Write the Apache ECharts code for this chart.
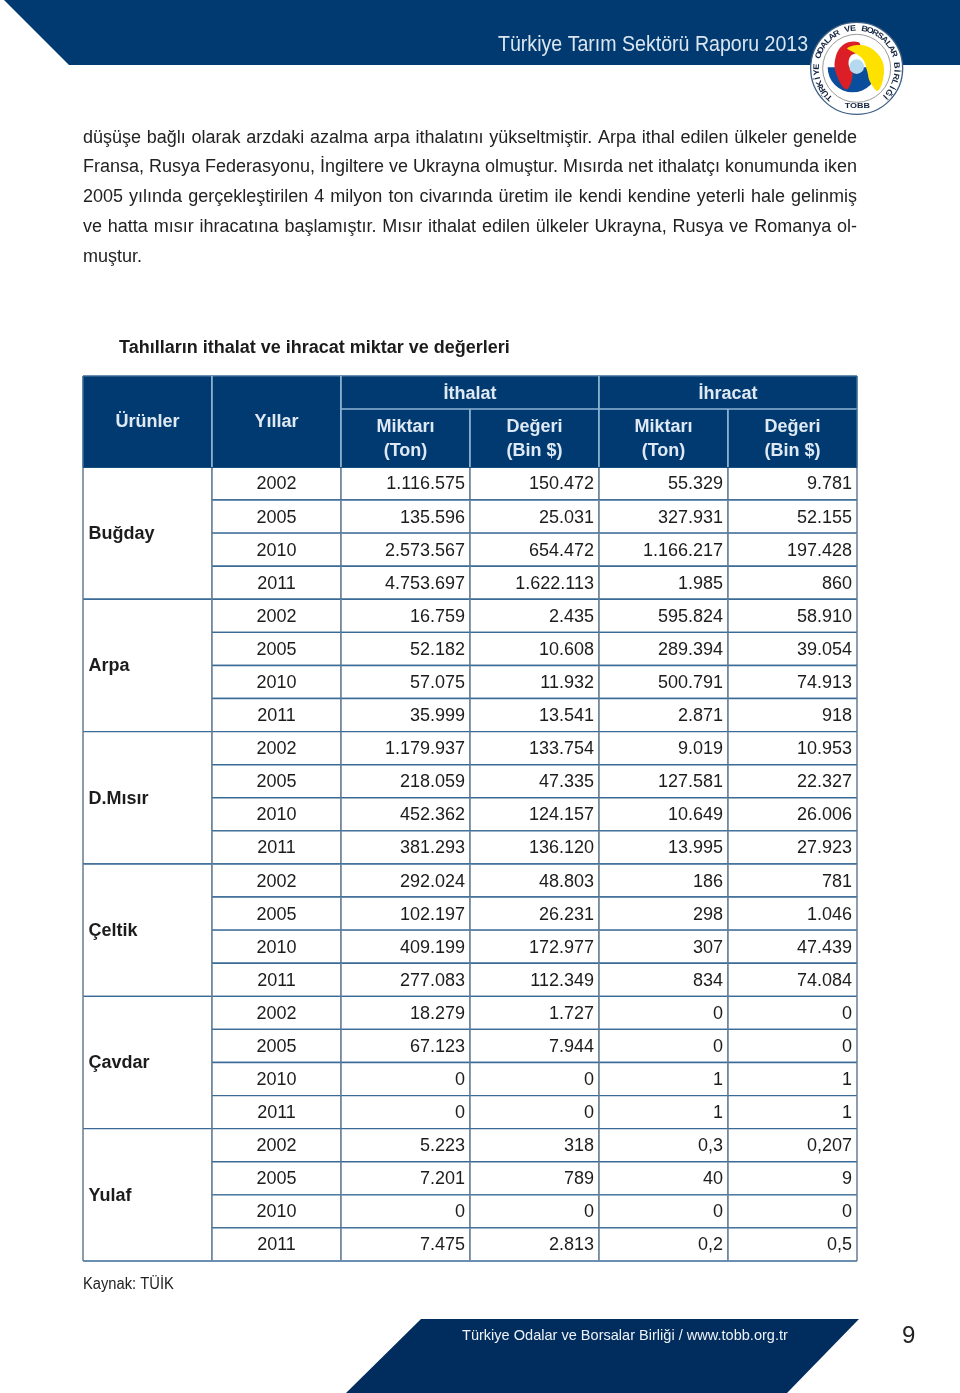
<!DOCTYPE html>
<html>
<head>
<meta charset="utf-8">
<title>Tahılların ithalat ve ihracat miktar ve değerleri</title>
<script src="https://cdn.jsdelivr.net/npm/echarts@6/dist/echarts.min.js"></script>
<style>
  html, body { margin: 0; padding: 0; background: #fff; }
  #main { width: 960px; height: 1393px; }
</style>
</head>
<body>
<div id="main"></div>
<script>
// tablo verileri
const products = ['Buğday', 'Arpa', 'D.Mısır', 'Çeltik', 'Çavdar', 'Yulaf'];
const years = ['2002', '2005', '2010', '2011'];
const importQty = [
  '1.116.575', '135.596', '2.573.567', '4.753.697',
  '16.759', '52.182', '57.075', '35.999',
  '1.179.937', '218.059', '452.362', '381.293',
  '292.024', '102.197', '409.199', '277.083',
  '18.279', '67.123', '0', '0',
  '5.223', '7.201', '0', '7.475'
];
const importVal = [
  '150.472', '25.031', '654.472', '1.622.113',
  '2.435', '10.608', '11.932', '13.541',
  '133.754', '47.335', '124.157', '136.120',
  '48.803', '26.231', '172.977', '112.349',
  '1.727', '7.944', '0', '0',
  '318', '789', '0', '2.813'
];
const exportQty = [
  '55.329', '327.931', '1.166.217', '1.985',
  '595.824', '289.394', '500.791', '2.871',
  '9.019', '127.581', '10.649', '13.995',
  '186', '298', '307', '834',
  '0', '0', '1', '1',
  '0,3', '40', '0', '0,2'
];
const exportVal = [
  '9.781', '52.155', '197.428', '860',
  '58.910', '39.054', '74.913', '918',
  '10.953', '22.327', '26.006', '27.923',
  '781', '1.046', '47.439', '74.084',
  '0', '0', '1', '1',
  '0,207', '9', '0', '0,5'
];

const paragraph = [
  'düşüşe bağlı olarak arzdaki azalma arpa ithalatını yükseltmiştir. Arpa ithal edilen ülkeler genelde',
  'Fransa, Rusya Federasyonu, İngiltere ve Ukrayna olmuştur. Mısırda net ithalatçı konumunda iken',
  '2005 yılında gerçekleştirilen 4 milyon ton civarında üretim ile kendi kendine yeterli hale gelinmiş',
  've hatta mısır ihracatına başlamıştır. Mısır ithalat edilen ülkeler Ukrayna, Rusya ve Romanya ol-',
  'muştur.'
];

const FONT = '"Liberation Sans", Arial, sans-serif';
const NAVY = '#003a70';
const HEAD_LINE = '#8fb4d3';
const ROW_LINE = '#3a6a96';
const COL_LINE = '#6f8498';

// hücreler: sütun, satır, sütun genişliği, satır yüksekliği
const HEAD = 2.75;
const cells = [];
function head(col, row, cs, rs, text) {
  cells.push({ col, row, cs, rs, text, kind: 'head' });
}
products.forEach((p, i) => {
  cells.push({ col: 0, row: i * years.length, cs: 1, rs: years.length, text: p, kind: 'product' });
});
importQty.forEach((v, i) => {
  cells.push({ col: 1, row: i, cs: 1, rs: 1, text: years[i % years.length], kind: 'year' });
  [v, importVal[i], exportQty[i], exportVal[i]].forEach((t, j) => {
    cells.push({ col: 2 + j, row: i, cs: 1, rs: 1, text: t, kind: 'num' });
  });
});
head(0, -HEAD, 1, HEAD, 'Ürünler');
head(1, -HEAD, 1, HEAD, 'Yıllar');
head(2, -HEAD, 2, 1, 'İthalat');
head(4, -HEAD, 2, 1, 'İhracat');
head(2, 1 - HEAD, 1, HEAD - 1, 'Miktarı\n(Ton)');
head(3, 1 - HEAD, 1, HEAD - 1, 'Değeri\n(Bin $)');
head(4, 1 - HEAD, 1, HEAD - 1, 'Miktarı\n(Ton)');
head(5, 1 - HEAD, 1, HEAD - 1, 'Değeri\n(Bin $)');

function renderCell(params, api) {
  const c = cells[params.dataIndex];
  const p0 = api.coord([api.value(0), api.value(1)]);
  const p1 = api.coord([api.value(0) + api.value(2), api.value(1) + api.value(3)]);
  const isHead = c.kind === 'head';
  const edge = isHead ? ROW_LINE : null;
  const hColor = isHead ? HEAD_LINE : ROW_LINE;
  const vColor = isHead ? HEAD_LINE : COL_LINE;
  const line = (x1, y1, x2, y2, color, w) => ({
    type: 'line', shape: { x1, y1, x2, y2 }, style: { stroke: color, lineWidth: w }
  });
  let x = (p0[0] + p1[0]) / 2;
  let align = 'center';
  if (c.kind === 'num') { x = p1[0] - 5; align = 'right'; }
  if (c.kind === 'product') { x = p0[0] + 5.5; align = 'left'; }
  const bold = isHead || c.kind === 'product';
  return {
    type: 'group',
    children: [
      { type: 'rect', shape: { x: p0[0], y: p0[1], width: p1[0] - p0[0], height: p1[1] - p0[1] },
        style: { fill: isHead ? NAVY : '#fff' } },
      line(p0[0], p0[1], p1[0], p0[1], (isHead && c.row === -HEAD) ? edge : hColor, 1.4),
      line(p0[0], p1[1], p1[0], p1[1], (isHead && c.row + c.rs === 0) ? NAVY : hColor, 1.4),
      line(p0[0], p0[1], p0[0], p1[1], (isHead && c.col === 0) ? edge : vColor, 1.6),
      line(p1[0], p0[1], p1[0], p1[1], (isHead && c.col + c.cs === 6) ? edge : vColor, 1.6),
      { type: 'text', z2: 5,
        style: {
          x: x, y: (p0[1] + p1[1]) / 2 + 1, text: c.text,
          textAlign: align, textVerticalAlign: 'middle', lineHeight: 24,
          font: (bold ? 'bold ' : '') + '18px ' + FONT,
          fill: isHead ? '#dfe9f3' : '#1c1c1c'
        } }
    ]
  };
}

// paragraf satırlarını iki yana yasla
const measure = document.createElement('canvas').getContext('2d');
function justified(text, y, left, right, font, fill, stretch) {
  measure.font = font;
  const words = text.split(' ');
  const total = words.reduce((s, w) => s + measure.measureText(w).width, 0);
  const gap = stretch ? (right - left - total) / (words.length - 1) : measure.measureText(' ').width;
  const out = [];
  let x = left;
  words.forEach(w => {
    out.push({ type: 'text', x: x, y: y, style: { text: w, font, fill, textVerticalAlign: 'middle' } });
    x += measure.measureText(w).width + gap;
  });
  return out;
}
const bodyFont = '18px ' + FONT;
const lineY = [138, 167, 197, 227, 257];
const paragraphEls = [];
paragraph.forEach((t, i) => {
  paragraphEls.push(...justified(t, lineY[i], 83, 857, bodyFont, '#222', i < paragraph.length - 1));
});

// TOBB logosu, koordinatlar 3 kat büyütülmüş
const ringText = 'TÜRKİYE ODALAR VE BORSALAR BİRLİĞİ';
const LOGO_C = [230, 175];
const logoText = ringText.split('').map((ch, i) => {
  const start = -137, sweep = 272;
  const deg = start + sweep * i / (ringText.length - 1);
  const a = deg * Math.PI / 180;
  return {
    type: 'text',
    x: LOGO_C[0] + 120 * Math.sin(a),
    y: LOGO_C[1] - 120 * Math.cos(a),
    rotation: -a,
    scaleX: 1.12,
    style: { text: ch, font: 'bold 24px ' + FONT, fill: '#14243f', textAlign: 'center', textVerticalAlign: 'middle' }
  };
});
const logo = {
  type: 'group', x: 780, y: 10, scaleX: 1 / 3, scaleY: 1 / 3,
  children: [
    { type: 'circle', shape: { cx: LOGO_C[0], cy: LOGO_C[1], r: 138 }, style: { fill: '#fff', stroke: '#3f5f85', lineWidth: 4 } },
    { type: 'circle', shape: { cx: LOGO_C[0], cy: LOGO_C[1], r: 102 }, style: { fill: '#fff', stroke: '#9a9a9a', lineWidth: 3 } },
    { type: 'sector', shape: { cx: 218, cy: 172, r: 75, r0: 0, startAngle: 0, endAngle: Math.PI }, style: { fill: '#0a4d9c' } },
    { type: 'polygon', shape: { smooth: 0.4, points: [[236, 97], [190, 104], [165, 150], [172, 200], [200, 238], [218, 192], [206, 165], [212, 138], [238, 124]] }, style: { fill: '#dc1f26' } },
    { type: 'polygon', shape: { smooth: 0.4, points: [[202, 114], [250, 106], [296, 135], [312, 182], [294, 242], [270, 215], [262, 185], [250, 150], [226, 130]] }, style: { fill: '#ffe100' } },
    { type: 'circle', shape: { cx: 230, cy: 170, r: 22 }, style: { fill: '#b5d9ee' } },
    { type: 'text', x: 232, y: 287, scaleX: 1.12,
      style: { text: 'TOBB', font: 'bold 24px ' + FONT, fill: '#14243f', textAlign: 'center', textVerticalAlign: 'middle' } }
  ].concat(logoText)
};

const myChart = echarts.init(document.getElementById('main'), null, { renderer: 'canvas' });
myChart.setOption({
  animation: false,
  backgroundColor: '#fff',
  grid: { left: 83, top: 376, width: 774, height: 885, containLabel: false },
  xAxis: { type: 'value', min: 0, max: 6, show: false },
  yAxis: { type: 'value', min: -HEAD, max: 24, inverse: true, show: false },
  series: [{
    type: 'custom',
    coordinateSystem: 'cartesian2d',
    clip: false,
    silent: true,
    renderItem: renderCell,
    data: cells.map(c => [c.col, c.row, c.cs, c.rs])
  }],
  graphic: [
    // üst ve alt bant
    { type: 'polygon', shape: { points: [[4, 0], [960, 0], [960, 65], [69, 65]] }, style: { fill: NAVY } },
    { type: 'polygon', shape: { points: [[421, 1319], [859, 1319], [787, 1393], [346, 1393]] }, style: { fill: '#002d5e' } },
    { type: 'text', x: 498, y: 45, scaleX: 0.89, style: { text: 'Türkiye Tarım Sektörü Raporu 2013', font: '22px ' + FONT, fill: '#dbe6f0', textVerticalAlign: 'middle' } },
    logo,
    ...paragraphEls,
    { type: 'text', x: 119, y: 348, style: { text: 'Tahılların ithalat ve ihracat miktar ve değerleri', font: 'bold 18px ' + FONT, fill: '#1c1c1c', textVerticalAlign: 'middle' } },
    { type: 'text', x: 83, y: 1285, scaleX: 0.92, style: { text: 'Kaynak: TÜİK', font: '16px ' + FONT, fill: '#222', textVerticalAlign: 'middle' } },
    { type: 'text', x: 462, y: 1336, scaleX: 0.97, style: { text: 'Türkiye Odalar ve Borsalar Birliği / www.tobb.org.tr', font: '15px ' + FONT, fill: '#eef2f6', textVerticalAlign: 'middle' } },
    { type: 'text', x: 902, y: 1336, style: { text: '9', font: '24px ' + FONT, fill: '#222', textVerticalAlign: 'middle' } }
  ]
});
</script>
</body>
</html>
